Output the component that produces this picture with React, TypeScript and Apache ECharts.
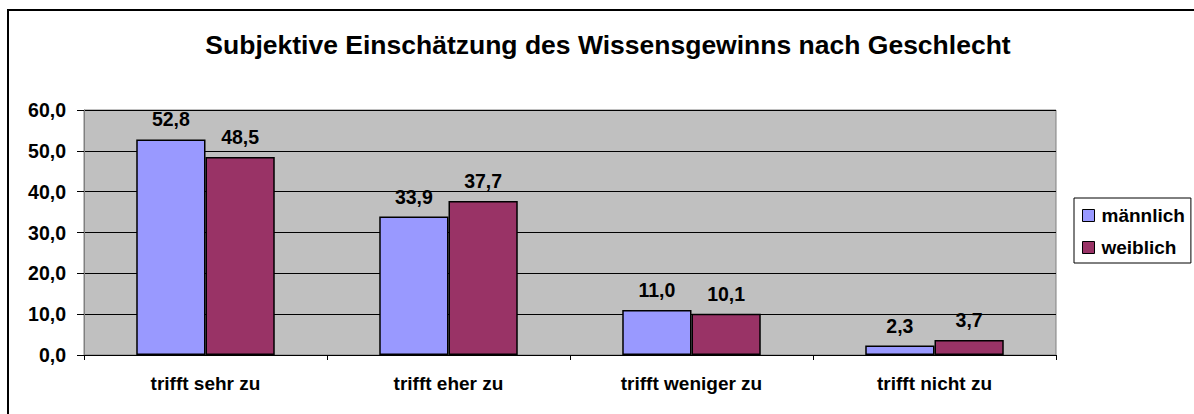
import React, { useEffect, useRef } from "react";
import * as echarts from "echarts";

const categories = ["trifft sehr zu", "trifft eher zu", "trifft weniger zu", "trifft nicht zu"];
const maennlich = [52.8, 33.9, 11.0, 2.3];
const weiblich = [48.5, 37.7, 10.1, 3.7];
const seriesNames = ["männlich", "weiblich"];
const titleText = "Subjektive Einschätzung des Wissensgewinns nach Geschlecht";

const fmt = (v: number) => v.toFixed(1).replace(".", ",");
const FONT = "'Liberation Sans', Arial, sans-serif";

export default function App() {
  const ref = useRef<HTMLDivElement>(null);
  useEffect(() => {
    if (!ref.current) return;
    const chart = echarts.init(ref.current, undefined, { renderer: "svg" });
    const labelCfg = {
      show: true,
      position: "top" as const,
      distance: 10,
      formatter: (p: any) => fmt(p.value),
      fontFamily: FONT,
      fontWeight: "bold" as const,
      fontSize: 19.5,
      color: "#000",
    };
    chart.setOption({
      animation: false,
      backgroundColor: "#fff",
      title: {
        text: titleText,
        left: 603,
        textAlign: "center",
        top: 26,
        textStyle: { fontFamily: FONT, fontWeight: "bold", fontSize: 26.5, color: "#000" },
      },
      graphic: [
        {
          type: "rect",
          shape: { x: 8, y: 10, width: 1250, height: 450 },
          style: { fill: "none", stroke: "#000", lineWidth: 2 },
          silent: true,
          z: 100,
        },
      ],
      legend: {
        orient: "vertical",
        left: 1074,
        top: 198,
        padding: [8, 6, 6, 8],
        itemGap: 13,
        itemWidth: 12,
        itemHeight: 12,
        borderColor: "#000",
        borderWidth: 1,
        icon: "rect",
        data: seriesNames,
        textStyle: { fontFamily: FONT, fontWeight: "bold", fontSize: 19, color: "#000", padding: [0, 0, 0, 2] },
        itemStyle: { borderColor: "#000", borderWidth: 1 },
      },
      grid: {
        left: 84,
        right: 138,
        top: 110,
        bottom: 59,
        show: true,
        backgroundColor: "#C0C0C0",
        borderColor: "#808080",
        borderWidth: 1,
      },
      xAxis: {
        type: "category",
        data: categories,
        axisLine: { show: true, lineStyle: { color: "#000", width: 1 } },
        axisTick: { show: true, alignWithLabel: false, length: 5, inside: false, lineStyle: { color: "#000" } },
        axisLabel: {
          fontFamily: FONT,
          fontWeight: "bold",
          fontSize: 19,
          color: "#000",
          margin: 19,
        },
      },
      yAxis: {
        type: "value",
        min: 0,
        max: 60,
        interval: 10,
        axisLine: { show: true, lineStyle: { color: "#808080", width: 1 } },
        axisTick: { show: true, length: 7, lineStyle: { color: "#000" } },
        splitLine: { show: true, lineStyle: { color: "#000", width: 1 } },
        axisLabel: {
          formatter: (v: number) => fmt(v),
          fontFamily: FONT,
          fontWeight: "bold",
          fontSize: 19.5,
          color: "#000",
          margin: 18,
        },
      },
      series: [
        {
          name: seriesNames[0],
          type: "bar",
          data: maennlich,
          barGap: "0%",
          barCategoryGap: "43%",
          itemStyle: { color: "#9999FF", borderColor: "#000", borderWidth: 1.5 },
          label: labelCfg,
        },
        {
          name: seriesNames[1],
          type: "bar",
          data: weiblich,
          itemStyle: { color: "#993366", borderColor: "#000", borderWidth: 1.5 },
          label: labelCfg,
        },
      ],
    });
    return () => chart.dispose();
  }, []);
  return (
    <div
      ref={ref}
      style={{ position: "fixed", left: 0, top: 0, width: 1194, height: 414 }}
    />
  );
}
